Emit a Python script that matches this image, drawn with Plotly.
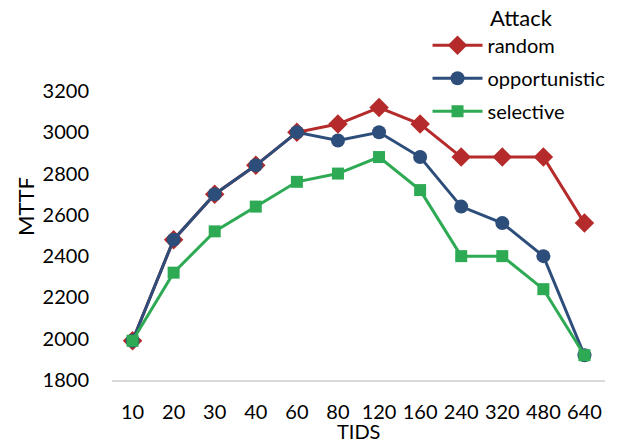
import plotly.graph_objects as go

tids = ["10", "20", "30", "40", "60", "80", "120", "160", "240", "320", "480", "640"]
random_vals = [1990, 2480, 2700, 2840, 3000, 3040, 3120, 3040, 2880, 2880, 2880, 2560]
opportunistic_vals = [1990, 2480, 2700, 2840, 3000, 2960, 3000, 2880, 2640, 2560, 2400, 1920]
selective_vals = [1990, 2320, 2520, 2640, 2760, 2800, 2880, 2720, 2400, 2400, 2240, 1920]
y_ticks = [1800, 2000, 2200, 2400, 2600, 2800, 3000, 3200]

FONT = "Lato"

fig = go.Figure()
fig.add_trace(go.Scatter(x=tids, y=random_vals, name="random", mode="lines+markers",
                         legendgroup="a",
                         line=dict(color="#B52A2A", width=3),
                         marker=dict(symbol="diamond", size=15, color="#B52A2A")))
fig.add_trace(go.Scatter(x=tids, y=opportunistic_vals, name="opportunistic", mode="lines+markers",
                         legendgroup="b",
                         line=dict(color="#2D4E7A", width=3),
                         marker=dict(symbol="circle", size=14, color="#2D4E7A")))
fig.add_trace(go.Scatter(x=tids, y=selective_vals, name="selective", mode="lines+markers",
                         legendgroup="c",
                         line=dict(color="#2EAA55", width=3),
                         marker=dict(symbol="square", size=12, color="#2EAA55")))

plot_w = 637 - 112 - 32
plot_h = 444 - 91 - 64

fig.update_layout(
    width=637, height=444,
    margin=dict(l=112, r=32, t=91, b=64),
    paper_bgcolor="white", plot_bgcolor="white",
    font=dict(family=FONT, size=20, color="#000000"),
    xaxis=dict(type="category", automargin=False, range=[-0.5, len(tids) - 0.5],
               showgrid=False, showline=True, linecolor="#D9D9D9", linewidth=2,
               ticks="", tickfont=dict(size=20), zeroline=False, ticklabelstandoff=13),
    yaxis=dict(range=[1800, 3200], tickvals=y_ticks, showgrid=False, zeroline=False,
               automargin=False, showline=False, ticks="", tickfont=dict(size=20),
               ticklabelstandoff=22),
    legend=dict(x=0.64, y=1.226, xanchor="left", yanchor="top",
                bgcolor="rgba(0,0,0,0)", font=dict(size=20),
                itemwidth=50, tracegroupgap=4),
    annotations=[
        dict(text="MTTF", x=(25 - 112) / plot_w, y=(444 - 64 - 207) / plot_h,
             xref="paper", yref="paper", showarrow=False,
             textangle=-90, font=dict(size=22), xanchor="center", yanchor="middle"),
        dict(text="TIDS", x=0.5, y=-(431 - 380) / plot_h, xref="paper", yref="paper",
             showarrow=False, font=dict(size=20), xanchor="center", yanchor="middle"),
        dict(text="Attack", x=(521 - 112) / plot_w, y=(380 - 18) / plot_h,
             xref="paper", yref="paper", showarrow=False,
             font=dict(size=22), xanchor="center", yanchor="middle"),
    ],
)

fig.write_html("out.html")
